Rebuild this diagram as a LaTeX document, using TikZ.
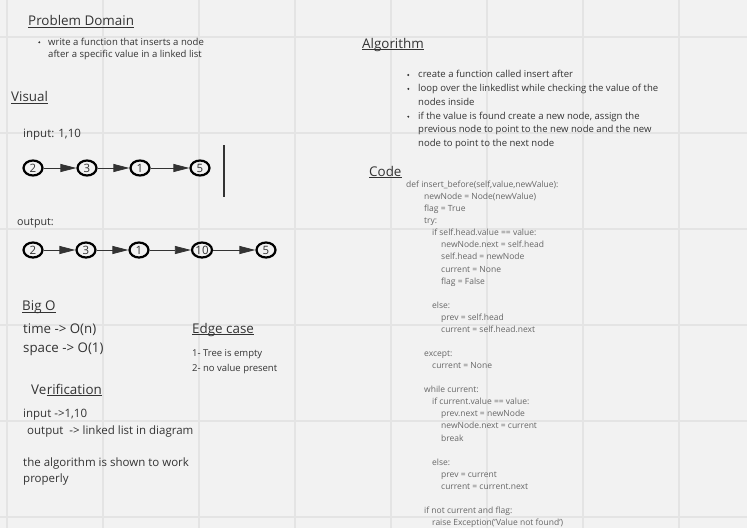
\documentclass[tikz,border=0pt]{standalone}
\usepackage{fontspec}
\setmainfont{Open Sans}
\usepackage{tikz}
\usetikzlibrary{shapes.geometric,arrows.meta,positioning}
\definecolor{board}{HTML}{F2F2F2}
\definecolor{gridline}{HTML}{E4E4E4}
\definecolor{ink}{HTML}{333333}
\definecolor{codeink}{HTML}{666666}
\tikzset{
  heading/.style={anchor=base west,inner sep=0pt,text=ink,font=\fontsize{13.4}{16}\selectfont},
  bodytext/.style={anchor=base west,inner sep=0pt,text=ink,font=\fontsize{11.5}{14}\selectfont},
  note/.style={anchor=base west,inner sep=0pt,text=ink,font=\fontsize{9.55}{12}\selectfont},
  codeline/.style={anchor=base west,inner sep=0pt,text=codeink,font=\fontsize{8.5}{10}\selectfont},
  lnode/.style={draw=black,ellipse,line width=2.2pt,minimum width=19pt,minimum height=15pt,inner sep=0pt,text=ink,font=\fontsize{11.5}{12}\selectfont},
  link/.style={-{Triangle[length=16pt,width=8pt]},line width=0.8pt,draw=ink},
  uline/.style={draw=ink,line width=0.9pt}
}

\begin{document}
\begin{tikzpicture}[x=1pt,y=-1pt]
  \fill[board] (0,0) rectangle (747,528);
  \useasboundingbox (0,0) rectangle (747,528);
  \draw[gridline,line width=1.2pt] (7,0) -- (7,528) (103,0) -- (103,528) (199,0) -- (199,528) (295,0) -- (295,528)
    (391,0) -- (391,528) (487,0) -- (487,528) (583,0) -- (583,528) (679,0) -- (679,528)
    (0,37) -- (747,37) (0,133) -- (747,133) (0,229) -- (747,229) (0,325) -- (747,325) (0,421) -- (747,421) (0,517) -- (747,517);

  % left column
  \node[heading] (pd) at (28,25.5) {Problem Domain};
  \draw[uline] ([yshift=-1.6pt]pd.base west) -- ([yshift=-1.6pt]pd.base east);
  \fill[ink] (39.3,42.3) circle (1.1);
  \node[note] (pd1) at (48,45) {write a function that inserts a node};
  \node[note] (pd2) at (48,57) {after a specific value in a linked list};

  \node[heading] (vis) at (11,101.7) {Visual};
  \draw[uline] ([yshift=-1.6pt]vis.base west) -- ([yshift=-1.6pt]vis.base east);
  \node[bodytext] (inp) at (23,137.7) {input: 1,10};

  \node[lnode] (i1) at (33,168) {2};
  \node[lnode] (i2) at (87,168) {3};
  \node[lnode] (i3) at (140,168) {1};
  \node[lnode] (i4) at (200,168) {5};
  \draw[link] (i1) -- (i2);
  \draw[link] (i2) -- (i3);
  \draw[link] (i3) -- (i4);
  \draw[ink,line width=1.2pt] (224,145) -- (224,197);

  \node[bodytext,font=\fontsize{10.7}{13}\selectfont] (outp) at (17,225) {output:};
  \node[lnode] (o1) at (33,250) {2};
  \node[lnode] (o2) at (86,250) {3};
  \node[lnode] (o3) at (139,250) {1};
  \node[lnode,minimum width=20pt] (o4) at (202,250) {10};
  \node[lnode] (o5) at (266,250) {5};
  \draw[link] (o1) -- (o2);
  \draw[link] (o2) -- (o3);
  \draw[link] (o3) -- (o4);
  \draw[link] (o4) -- (o5);

  \node[heading] (bigo) at (22,310.7) {Big O};
  \draw[uline] ([yshift=-1.6pt]bigo.base west) -- ([yshift=-1.6pt]bigo.base east);
  \node[bodytext,font=\fontsize{13.3}{16}\selectfont] (time) at (23,333.3) {time -> O(n)};
  \node[bodytext,font=\fontsize{13.3}{16}\selectfont] (space) at (23,352.7) {space -> O(1)};

  \node[heading] (edge) at (192,333.3) {Edge case};
  \draw[uline] ([yshift=-1.6pt]edge.base west) -- ([yshift=-1.6pt]edge.base east);
  \node[note,font=\fontsize{9.5}{12}\selectfont] (e1) at (192,356.7) {1- Tree is empty};
  \node[note,font=\fontsize{9.5}{12}\selectfont] (e2) at (192,371) {2- no value present};

  \node[heading] (ver) at (31,394) {Ve};
  \node[heading] (verb) at (ver.base east) {rification};
  \draw[uline] ([yshift=-1.6pt]verb.base west) -- ([yshift=-1.6pt]verb.base east);
  \node[bodytext] (v1) at (23,417.3) {input ->1,10};
  \node[bodytext] (v2) at (27,434) {output~ -> linked list in diagram};
  \node[bodytext] (v3) at (23,466) {the algorithm is shown to work};
  \node[bodytext] (v4) at (23,482.7) {properly};

  % right column
  \node[heading] (alg) at (362,48.3) {Algorithm};
  \draw[uline] ([yshift=-1.6pt]alg.base west) -- ([yshift=-1.6pt]alg.base east);
  \fill[ink] (408.3,75) circle (1.1);
  \fill[ink] (408.3,88.9) circle (1.1);
  \fill[ink] (408.3,116.7) circle (1.1);
  \node[note] (a1) at (418,77.3) {create a function called insert after};
  \node[note] (a2) at (418,91.2) {loop over the linkedlist while checking the value of the};
  \node[note] (a3) at (418,105.1) {nodes inside};
  \node[note] (a4) at (418,119) {if the value is found create a new node, assign the};
  \node[note] (a5) at (418,132.9) {previous node to point to the new node and the new};
  \node[note] (a6) at (418,146.8) {node to point to the next node};

  \node[heading] (code) at (369,176) {Code};
  \draw[uline] ([yshift=-1.6pt]code.base west) -- ([yshift=-1.6pt]code.base east);
  \node[codeline] (c1) at (406,187.5) {def insert\_before(self,value,newValue):};
  \node[codeline] (c2) at (424,199.6) {newNode = Node(newValue)};
  \node[codeline] (c3) at (424,211.6) {flag = True};
  \node[codeline] (c4) at (424,223.7) {try:};
  \node[codeline] (c5) at (432,235.8) {if self.head.value == value:};
  \node[codeline] (c6) at (441,247.9) {newNode.next = self.head};
  \node[codeline] (c7) at (441,259.9) {self.head = newNode};
  \node[codeline] (c8) at (441,272.0) {current = None};
  \node[codeline] (c9) at (441,284.1) {flag = False};
  \node[codeline] (c10) at (432,308.2) {else:};
  \node[codeline] (c11) at (441,320.3) {prev = self.head};
  \node[codeline] (c12) at (441,332.4) {current = self.head.next};
  \node[codeline] (c13) at (424,356.5) {except:};
  \node[codeline] (c14) at (432,368.6) {current = None};
  \node[codeline] (c15) at (424,392.7) {while current:};
  \node[codeline] (c16) at (432,404.8) {if current.value == value:};
  \node[codeline] (c17) at (441,416.8) {prev.next = newNode};
  \node[codeline] (c18) at (441,428.9) {newNode.next = current};
  \node[codeline] (c19) at (441,441.0) {break};
  \node[codeline] (c20) at (432,465.1) {else:};
  \node[codeline] (c21) at (441,477.2) {prev = current};
  \node[codeline] (c22) at (441,489.3) {current = current.next};
  \node[codeline] (c23) at (424,513.4) {if not current and flag:};
  \node[codeline] (c24) at (432,525.5) {raise Exception('Value not found')};
\end{tikzpicture}
\end{document}
